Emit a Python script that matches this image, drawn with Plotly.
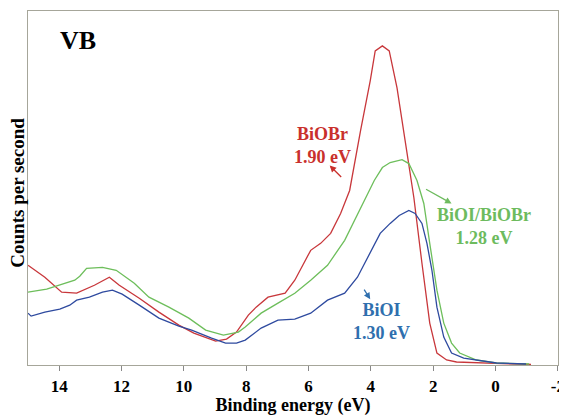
import plotly.graph_objects as go

# Binding energy (eV) and counts (arbitrary units)
biobr_e = [15.0, 14.46, 13.92, 13.44, 12.87, 12.39, 12.07, 11.43, 10.8, 10.16, 9.68, 9.2, 8.98, 8.63,
           8.31, 7.93, 7.68, 7.3, 6.98, 6.75, 6.44, 5.93, 5.61, 5.29, 4.97, 4.68, 4.33, 4.02, 3.86,
           3.63, 3.41, 3.16, 2.9, 2.62, 2.36, 2.11, 1.88, 1.57, 1.25, 0.2, -0.66, -1.14]
biobr_c = [100, 88, 73, 72, 80, 88, 80, 67, 53, 40, 32, 26, 24, 26,
           33, 50, 58, 68, 70, 72, 85, 115, 122, 132, 152, 175, 235, 285, 315,
           320, 315, 278, 225, 168, 102, 42, 12, 5, 3, 2, 1, 0.5]

comp_e = [15.0, 14.4, 13.5, 13.34, 13.12, 12.61, 12.17, 11.59, 11.12, 10.48, 9.84, 9.3, 8.73, 8.25,
          8.03, 7.52, 6.98, 6.44, 5.93, 5.39, 4.84, 4.33, 3.89, 3.63, 3.38, 3.0, 2.78, 2.52, 2.3,
          2.11, 1.88, 1.66, 1.41, 1.15, 0.61, -0.03, -1.08]
comp_c = [73, 76, 85, 89, 97, 98, 95, 82, 68, 58, 47, 35, 30, 33,
          38, 52, 62, 72, 85, 100, 125, 158, 185, 198, 203, 206, 202, 185, 162,
          122, 75, 42, 22, 12, 5, 2, 1]

bioi_e = [15.0, 14.9, 14.46, 13.98, 13.66, 13.44, 13.03, 12.61, 12.29, 11.98, 11.43, 10.8, 10.16, 9.75,
          9.11, 8.66, 8.31, 8.03, 7.52, 6.98, 6.44, 5.93, 5.39, 4.84, 4.43, 4.11, 3.7, 3.38, 3.09,
          2.78, 2.58, 2.36, 2.2, 2.04, 1.88, 1.66, 1.41, 1.02, 0.61, -0.03, -0.98]
bioi_c = [52, 49, 53, 56, 60, 65, 68, 73, 75, 71, 60, 47, 39, 35,
          27, 22, 22, 25, 37, 45, 46, 52, 65, 72, 88, 108, 132, 142, 150,
          155, 152, 142, 122, 95, 58, 28, 12, 7, 5, 2, 1]

x_ticks = [14, 12, 10, 8, 6, 4, 2, 0, -2]

RED = "#C8373B"
GREEN = "#6DBE5B"
BLUE = "#2E4A9F"
RED_T = "#C9302C"
GREEN_T = "#6DBB5E"
BLUE_T = "#2F6FAE"
FONT = "Liberation Serif"

fig = go.Figure()
fig.add_trace(go.Scatter(x=biobr_e, y=biobr_c, mode="lines", line=dict(color=RED, width=1.3), name="BiOBr"))
fig.add_trace(go.Scatter(x=comp_e, y=comp_c, mode="lines", line=dict(color=GREEN, width=1.3), name="BiOI/BiOBr"))
fig.add_trace(go.Scatter(x=bioi_e, y=bioi_c, mode="lines", line=dict(color=BLUE, width=1.3), name="BiOI"))

fig.update_layout(
    width=559, height=408,
    margin=dict(l=20, r=5, t=2, b=51),
    paper_bgcolor="white", plot_bgcolor="white",
    showlegend=False,
    font=dict(family=FONT, color="black"),
    xaxis=dict(range=[15, -2.005], tickvals=x_ticks, ticktext=[f"<b>{v}</b>" for v in x_ticks],
               tickfont=dict(size=17, family=FONT, color="black"), ticklabeloverflow="allow",
               showgrid=False, zeroline=False, showline=True, linecolor="#A6A69A", linewidth=1.2,
               mirror=True, ticks="outside", ticklen=5, tickcolor="#888888",
               title=dict(text="<b>Binding energy (eV)</b>", font=dict(size=18, family=FONT), standoff=6)),
    yaxis=dict(range=[0, 355], showticklabels=False, showgrid=False, zeroline=False,
               showline=True, linecolor="#A6A69A", linewidth=1.2, mirror=True, ticks=""),
)

fig.add_annotation(x=-0.0187, y=0.487, xref="paper", yref="paper", text="<b>Counts per second</b>",
                   textangle=-90, showarrow=False, font=dict(size=19, family=FONT, color="black"),
                   xanchor="center", yanchor="middle")
fig.add_annotation(x=13.38, y=325, text="<b>VB</b>", showarrow=False,
                   font=dict(size=26, family=FONT, color="black"))

fig.add_annotation(x=5.54, y=220, text="<b>BiOBr<br>1.90 eV</b>", showarrow=False,
                   font=dict(size=18, family=FONT, color=RED_T))
fig.add_annotation(x=0.355, y=139, text="<b>BiOI/BiOBr<br>1.28 eV</b>", showarrow=False,
                   font=dict(size=18, family=FONT, color=GREEN_T))
fig.add_annotation(x=3.67, y=44, text="<b>BiOI<br>1.30 eV</b>", showarrow=False,
                   font=dict(size=18, family=FONT, color=BLUE_T))

# arrows
fig.add_annotation(x=5.32, y=200, ax=13, ay=13, text="", showarrow=True, arrowhead=2,
                   arrowsize=1, arrowwidth=1.3, arrowcolor=RED_T)
fig.add_annotation(x=1.41, y=162, ax=-27, ay=-15, text="", showarrow=True, arrowhead=2,
                   arrowsize=1, arrowwidth=1.3, arrowcolor=GREEN_T)
fig.add_annotation(x=4.02, y=66, ax=-7, ay=-11, text="", showarrow=True, arrowhead=2,
                   arrowsize=1, arrowwidth=1.3, arrowcolor=BLUE_T)

fig.write_html("out.html")
